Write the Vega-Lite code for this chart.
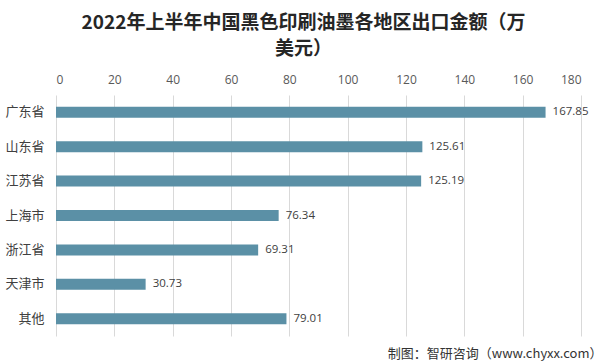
{
  "$schema": "https://vega.github.io/schema/vega-lite/v6.json",
  "autosize": {"type": "none"},
  "width": 525,
  "height": 241,
  "padding": {"left": 56, "top": 95, "right": 24, "bottom": 28},
  "background": "white",
  "config": {"view": {"stroke": null}, "font": "Noto Sans CJK SC"},
  "title": {
    "text": ["2022年上半年中国黑色印刷油墨各地区出口金额（万", "美元）"],
    "fontSize": 19,
    "fontWeight": "bold",
    "color": "#262626",
    "font": "Noto Sans CJK SC",
    "anchor": "middle",
    "dx": -15,
    "offset": 14,
    "lineHeight": 26
  },
  "data": {
    "values": [
      {"region": "广东省", "value": 167.85},
      {"region": "山东省", "value": 125.61},
      {"region": "江苏省", "value": 125.19},
      {"region": "上海市", "value": 76.34},
      {"region": "浙江省", "value": 69.31},
      {"region": "天津市", "value": 30.73},
      {"region": "其他", "value": 79.01}
    ]
  },
  "resolve": {"axis": {"x": "independent"}},
  "encoding": {
    "y": {
      "field": "region",
      "type": "nominal",
      "sort": null,
      "scale": {"paddingInner": 0.68, "paddingOuter": 0.34},
      "axis": {
        "title": null,
        "domain": false,
        "ticks": false,
        "labelFontSize": 13,
        "labelColor": "#404040",
        "labelPadding": 12
      }
    }
  },
  "layer": [
    {
      "mark": {"type": "bar", "color": "#5B90A6"},
      "encoding": {
        "x": {
          "field": "value",
          "type": "quantitative",
          "scale": {"domain": [0, 180]},
          "axis": {
            "orient": "top",
            "title": null,
            "values": [0, 20, 40, 60, 80, 100, 120, 140, 160, 180],
            "domain": false,
            "ticks": false,
            "grid": true,
            "gridColor": "#d9d9d9",
            "gridWidth": 1,
            "labelFontSize": 12,
            "labelColor": "#595959",
            "labelPadding": 9,
            "labelFont": "Open Sans"
          }
        }
      }
    },
    {
      "mark": {"type": "text", "align": "left", "dx": 7, "fontSize": 11.5, "color": "#404040", "font": "Open Sans"},
      "encoding": {
        "x": {
          "field": "value",
          "type": "quantitative",
          "axis": {
            "orient": "bottom",
            "domain": false,
            "ticks": false,
            "labels": false,
            "grid": false,
            "title": "制图：智研咨询（www.chyxx.com）",
            "titleFontSize": 13,
            "titleFontWeight": "normal",
            "titleColor": "#333333",
            "titleAnchor": "end",
            "titleAlign": "right",
            "titleBaseline": "alphabetic",
            "titleX": 546,
            "titleY": 21
          }
        },
        "text": {"field": "value", "type": "quantitative", "format": ".2f"}
      }
    }
  ]
}
